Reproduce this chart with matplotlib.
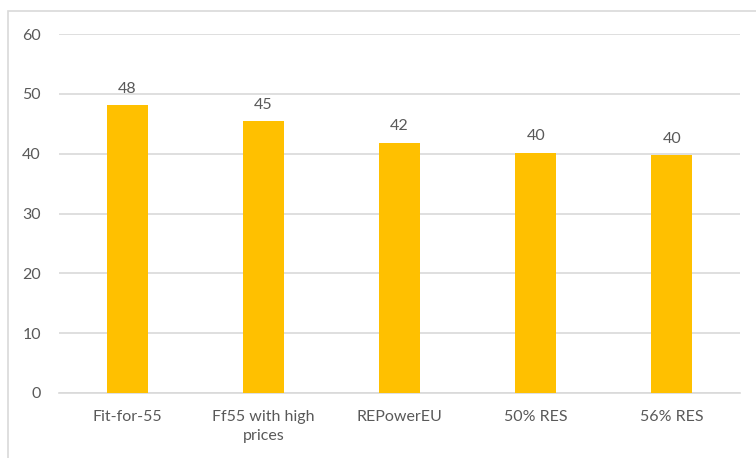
import matplotlib
matplotlib.use("Agg")
import matplotlib.pyplot as plt
from matplotlib.patches import Rectangle

# Data
scenarios = ['Fit-for-55', 'Ff55 with high\nprices', 'REPowerEU', '50% RES', '56% RES']
values = [48.1, 45.4, 41.8, 40.1, 39.7]
yticks = [0, 10, 20, 30, 40, 50, 60]

plt.rcParams['font.family'] = ['Lato', 'DejaVu Sans']
text_col = '#595959'
grid_col = '#D9D9D9'

fig = plt.figure(figsize=(7.56, 4.58), dpi=100)
fig.patches.append(Rectangle((8 / 756, -0.1), 1.2, 1.1 - 11 / 458,
                             transform=fig.transFigure, fill=False,
                             edgecolor='#D9D9D9', linewidth=1.2))
ax = fig.add_axes([59 / 756, 65 / 458, 681 / 756, 359 / 458])

x = range(len(scenarios))
bars = ax.bar(x, values, width=0.30, color='#FFC000', zorder=3)
for b, v in zip(bars, values):
    ax.text(b.get_x() + b.get_width() / 2, v + 1.6, f'{v:.0f}',
            ha='center', va='bottom', fontsize=11.5, color=text_col)

ax.set_xlim(-0.5, len(scenarios) - 0.5)
ax.set_ylim(0, 60)
ax.set_yticks(yticks)
ax.set_xticks(list(x))
ax.set_xticklabels(scenarios, linespacing=1.45)
ax.yaxis.grid(True, color=grid_col, linewidth=1.2, zorder=0)
for s in ['top', 'right', 'left']:
    ax.spines[s].set_visible(False)
ax.spines['bottom'].set_color(grid_col)
ax.spines['bottom'].set_linewidth(1.2)
ax.tick_params(axis='both', length=0, labelsize=11.5, colors=text_col)
ax.tick_params(axis='y', pad=13)
ax.tick_params(axis='x', pad=12)

fig.savefig('out.png', dpi=100)
